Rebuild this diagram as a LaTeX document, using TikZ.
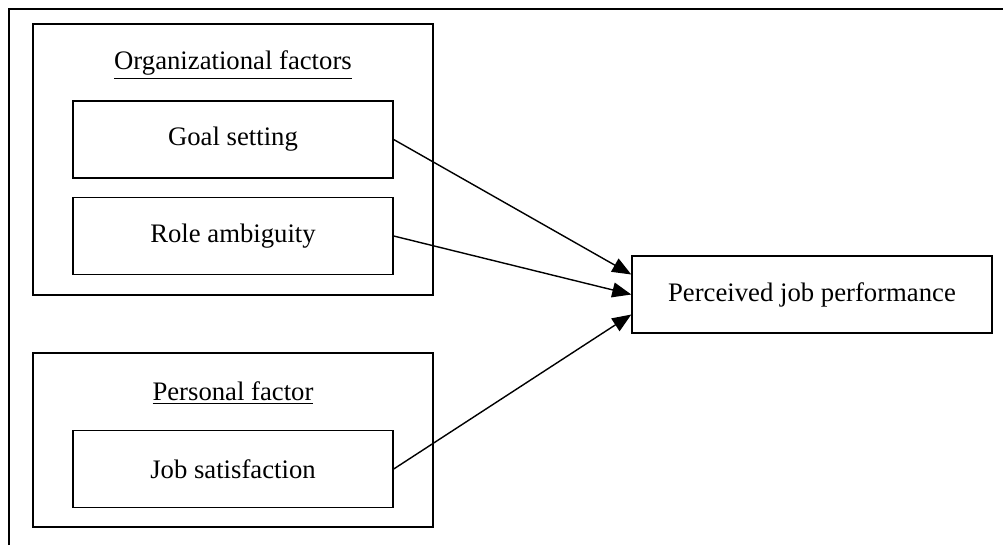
\documentclass[tikz,border=0pt]{standalone}
\usepackage{fontspec}
\setmainfont{Liberation Serif}
\usepackage{tikz}
\usetikzlibrary{arrows.meta,positioning}

\begin{document}
\begin{tikzpicture}[
        font=\fontsize{15.2}{18}\selectfont,
        group/.style={
            draw=black,
            line width=0.8pt,
            minimum width=8cm
        },
        factor/.style={
            draw=black,
            line width=0.8pt,
            align=center,
            minimum width=6.4cm,
            minimum height=1.54cm,
            inner sep=4pt
        },
        outcome/.style={
            factor,
            minimum width=7.2cm
        },
        grouptitle/.style={
            inner sep=2pt
        },
        arrow/.style={
            -{Triangle[length=3.8mm,width=3mm]},
            draw=black,
            line width=0.8pt
        }
    ]

    \useasboundingbox (0,0) rectangle (20.06,-10.9);

    % Outer frame (cut off at right and bottom)
    \draw[line width=1.1pt] (0.18,-10.9) -- (0.18,-0.18) -- (20.06,-0.18);

    % Organizational factors
    \node[group, minimum height=5.42cm] (org) at (4.66,-3.19) {};
    \node[grouptitle] (orgtitle) at (4.66,-1.3) {\underline{Organizational factors}};
    \node[factor] (goal) at (4.66,-2.79) {Goal setting};
    \node[factor] (role) at (4.66,-4.72) {Role ambiguity};

    % Personal factor
    \node[group, minimum height=3.48cm] (pers) at (4.66,-8.80) {};
    \node[grouptitle] (perstitle) at (4.66,-7.86) {\underline{Personal factor}};
    \node[factor] (sat) at (4.66,-9.38) {Job satisfaction};

    % Outcome
    \node[outcome] (perf) at (16.24,-5.89) {Perceived job performance};

    \draw[arrow] (goal.east) -- ([yshift=0.4cm]perf.west);
    \draw[arrow] (role.east) -- (perf.west);
    \draw[arrow] (sat.east) -- ([yshift=-0.4cm]perf.west);

\end{tikzpicture}
\end{document}
